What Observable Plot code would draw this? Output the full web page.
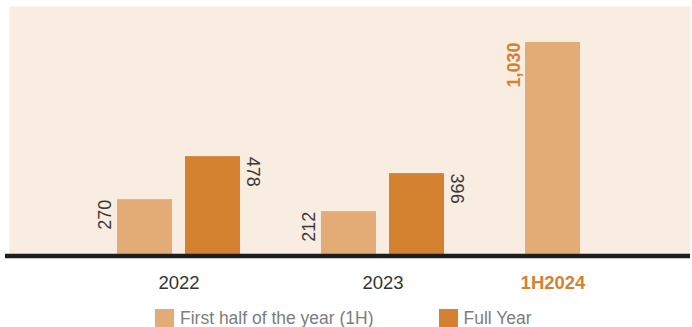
<!DOCTYPE html>
<html>
<head>
<meta charset="utf-8">
<script src="https://cdn.jsdelivr.net/npm/d3@7"></script>
<script src="https://cdn.jsdelivr.net/npm/@observablehq/plot@0.6"></script>
<style>
  html, body { margin: 0; padding: 0; background: #ffffff; }
  body { width: 692px; height: 327px; overflow: hidden; font-family: "Liberation Sans", Arial, sans-serif; }
  #legend { display: flex; align-items: flex-start; height: 27px; overflow: hidden; padding-left: 155px; padding-top: 8px; box-sizing: border-box; font-size: 17.5px; color: #7d7d7d; }
  .item { display: flex; align-items: flex-start; }
  .sw { width: 19px; height: 19px; margin-right: 6px; margin-top: 1px; }
  .lab { line-height: 20px; }
</style>
</head>
<body>
<div id="chart"></div>
<div id="legend"></div>
<script>
const periods = ["2022", "2023", "1H2024"];
const seriesNames = ["First half of the year (1H)", "Full Year"];
const seriesKeys = ["1H", "FY"];
const h1Values = [270, 212, 1030];
const fyValues = [478, 396, null];
const colors = ["#E3AC76", "#D4822F"];

const rows = [];
periods.forEach((p, i) => {
  rows.push({period: p, series: "1H", key: p + "|1H", value: h1Values[i]});
  if (fyValues[i] != null) rows.push({period: p, series: "FY", key: p + "|FY", value: fyValues[i]});
});
const domain = [];
periods.forEach((p, i) => {
  domain.push(p + "|1H");
  if (i < periods.length - 1) { domain.push(p + "|FY"); domain.push("gap" + i); }
});
const fmt = d3.format(",");
const highlight = "1H2024";

const chart = Plot.plot({
  width: 692,
  height: 300,
  marginLeft: 9,
  marginRight: 2,
  marginTop: 6,
  marginBottom: 45,
  style: {fontFamily: "Liberation Sans, Arial, sans-serif", background: "transparent"},
  x: {type: "band", domain, range: [117, 580], paddingInner: 13 / 68, paddingOuter: 0, axis: null},
  y: {domain: [0, 1030], range: [255, 42], axis: null},
  color: {domain: seriesKeys, range: colors},
  marks: [
    Plot.frame({fill: "#F9ECE0", stroke: null}),
    Plot.barY(rows, {x: "key", y: "value", fill: "series"}),
    Plot.ruleY([0], {stroke: "#1e1e1e", strokeWidth: 4.5, dy: 0.5, insetLeft: -4}),
    Plot.text(rows.filter(d => d.series === "1H" && d.period !== highlight), {
      x: "key", y: "value", text: d => fmt(d.value), rotate: -90, textAnchor: "end",
      dx: -40, fontSize: 18, fill: "#383838"
    }),
    Plot.text(rows.filter(d => d.series === "1H" && d.period === highlight), {
      x: "key", y: "value", text: d => fmt(d.value), rotate: -90, textAnchor: "end",
      dx: -39, fontSize: 18, fontWeight: "bold", fill: "#D4822F"
    }),
    Plot.text(rows.filter(d => d.series === "FY"), {
      x: "key", y: "value", text: d => fmt(d.value), rotate: 90, textAnchor: "start",
      dx: 40, fontSize: 18, fill: "#383838"
    }),
    Plot.text(periods.filter(p => p !== highlight), {
      x: p => p + "|1H", frameAnchor: "bottom", text: p => p, dx: 34, dy: 33,
      fontSize: 18.5, fill: "#333333"
    }),
    Plot.text([highlight], {
      x: p => p + "|1H", frameAnchor: "bottom", text: p => p, dy: 33,
      fontSize: 18.5, fontWeight: "bold", fill: "#D4822F"
    })
  ]
});
document.getElementById("chart").appendChild(chart);

const legend = document.getElementById("legend");
seriesNames.forEach((name, i) => {
  const item = document.createElement("div");
  item.className = "item";
  if (i > 0) item.style.marginLeft = "65px";
  const sw = document.createElement("div");
  sw.className = "sw";
  sw.style.background = colors[i];
  const lab = document.createElement("span");
  lab.className = "lab";
  lab.textContent = name;
  item.appendChild(sw);
  item.appendChild(lab);
  legend.appendChild(item);
});
</script>
</body>
</html>
